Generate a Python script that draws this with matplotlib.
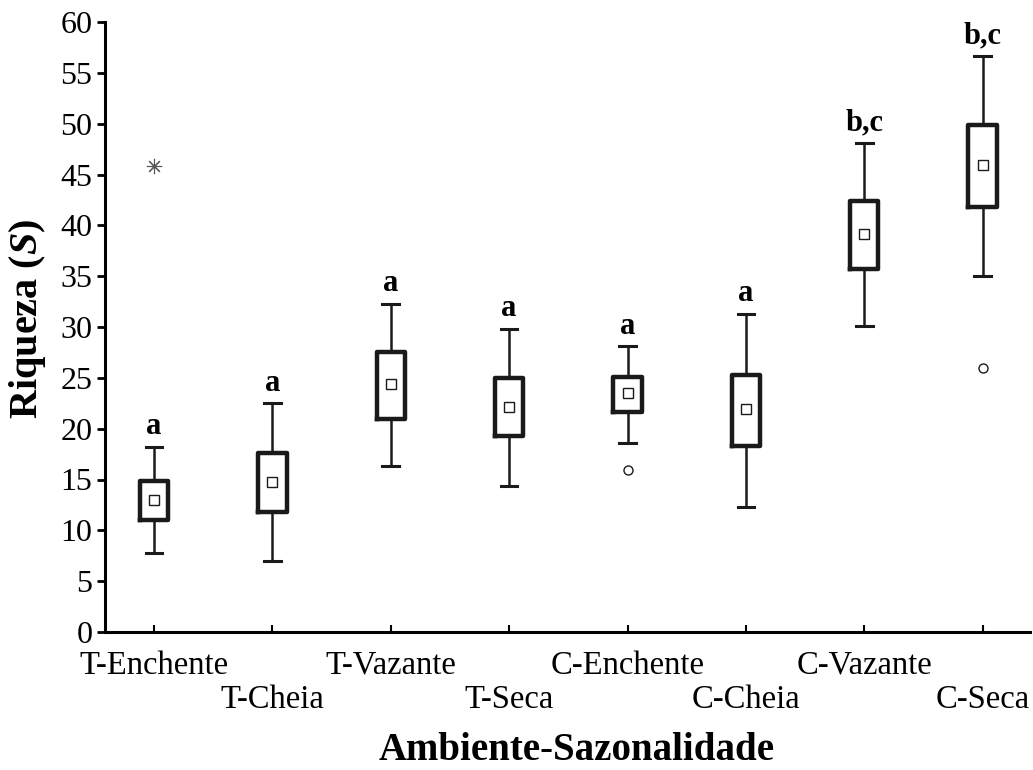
import matplotlib
matplotlib.use("Agg")
import matplotlib.pyplot as plt

plt.rcParams['font.family'] = ['Liberation Serif', 'DejaVu Serif']
plt.rcParams['mathtext.fontset'] = 'custom'
plt.rcParams['mathtext.rm'] = 'Liberation Serif'
plt.rcParams['mathtext.bf'] = 'Liberation Serif:bold'
plt.rcParams['mathtext.it'] = 'Liberation Serif:italic'
plt.rcParams['mathtext.bfit'] = 'Liberation Serif:italic:bold'

# dados
grupos = ['T-Enchente', 'T-Cheia', 'T-Vazante', 'T-Seca',
          'C-Enchente', 'C-Cheia', 'C-Vazante', 'C-Seca']
centro = [13.0, 14.8, 24.4, 22.1, 23.5, 21.9, 39.1, 45.9]
caixa_inf = [11.0, 11.8, 21.0, 19.3, 21.6, 18.3, 35.7, 41.8]
caixa_sup = [14.9, 17.6, 27.5, 25.0, 25.1, 25.3, 42.4, 49.9]
bigode_inf = [7.8, 7.0, 16.3, 14.4, 18.6, 12.3, 30.1, 35.0]
bigode_sup = [18.2, 22.5, 32.3, 29.8, 28.1, 31.3, 48.1, 56.7]
letras = ['a', 'a', 'a', 'a', 'a', 'a', 'b,c', 'b,c']

# outliers (circulo) e extremos (asterisco)
outlier_x = [4, 7]
outlier_y = [15.9, 26.0]
extremo_x = [0]
extremo_y = [45.8]

fig = plt.figure(figsize=(10.33, 7.70), dpi=100)
ax = fig.add_axes([105 / 1033, 1 - 632 / 770, 925 / 1033, 610 / 770])

stats = []
for i, g in enumerate(grupos):
    stats.append({'label': g, 'med': centro[i], 'mean': centro[i],
                  'q1': caixa_inf[i], 'q3': caixa_sup[i],
                  'whislo': bigode_inf[i], 'whishi': bigode_sup[i],
                  'fliers': []})

pos = list(range(len(grupos)))
ax.bxp(stats, positions=pos, widths=0.24, showmeans=True, showfliers=False,
       patch_artist=False,
       boxprops=dict(color='#1a1a1a', linewidth=3.2),
       whiskerprops=dict(color='#1a1a1a', linewidth=1.8),
       capprops=dict(color='#1a1a1a', linewidth=2.2),
       capwidths=0.14,
       medianprops=dict(visible=False),
       meanprops=dict(marker='s', markersize=7, markerfacecolor='white',
                      markeredgecolor='#1a1a1a', markeredgewidth=1.0))

ax.plot(outlier_x, outlier_y, 'o', markersize=6.5, markerfacecolor='white',
        markeredgecolor='#1a1a1a', markeredgewidth=1.0, linestyle='none')
ax.plot(extremo_x, extremo_y, linestyle='none', marker=(8, 2, 0), markersize=11,
        color='#555555', markeredgewidth=0.8)

for i, l in enumerate(letras):
    ax.annotate(l, (pos[i], bigode_sup[i]), xytext=(0, 4), textcoords='offset points',
                ha='center', va='bottom', fontsize=22, fontweight='bold')

ax.set_xlim(-0.414, 7.4)
ax.set_ylim(0, 60)
ax.set_yticks(range(0, 61, 5))
ax.set_xticks(pos)
ax.set_xticklabels([g if i % 2 == 0 else '\n' + g for i, g in enumerate(grupos)],
                   fontsize=23.5, linespacing=1.15)
ax.tick_params(axis='y', labelsize=23, width=2, length=6, direction='out', pad=3)
ax.tick_params(axis='x', width=1.5, length=5, direction='in', pad=13)

for s in ['top', 'right']:
    ax.spines[s].set_visible(False)
for s in ['left', 'bottom']:
    ax.spines[s].set_linewidth(2.2)

fig.text(28 / 1033, 1 - 319 / 770, r'Riqueza ($\mathbfit{S}$)', rotation=90,
         fontsize=29, fontweight='bold', ha='center', va='center')
fig.text(577 / 1033, 1 - 750 / 770, 'Ambiente-Sazonalidade',
         fontsize=28, fontweight='bold', ha='center', va='center')

fig.savefig('out.png', dpi=100)
